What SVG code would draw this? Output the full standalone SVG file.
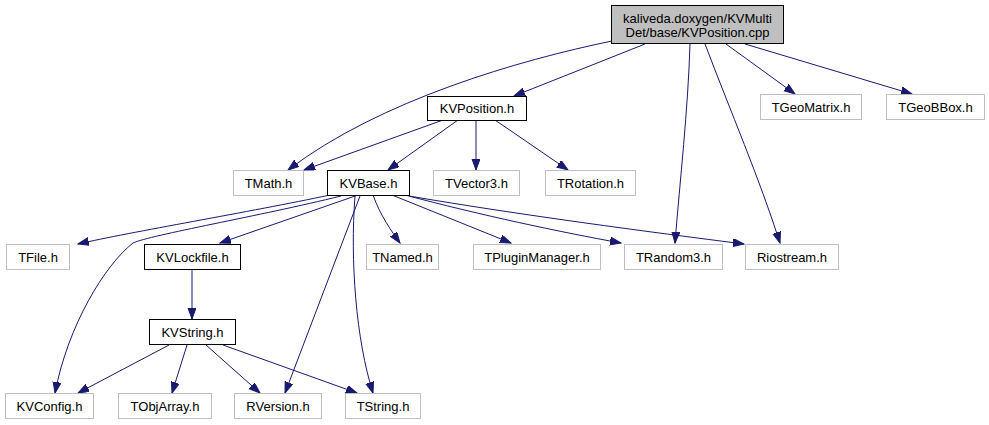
<svg xmlns="http://www.w3.org/2000/svg" width="989" height="425" viewBox="0 0 989 425">
<style>
text{font-family:"Liberation Sans",Arial,sans-serif;font-size:13px;text-anchor:middle;fill:#000}
.g rect{fill:#fff;stroke:#bfbfbf;stroke-width:1}
.b rect{fill:#fff;stroke:#000;stroke-width:1}
.r rect{fill:#bfbfbf;stroke:#000;stroke-width:1}
#edges path{fill:none;stroke:#191970;stroke-width:1}
</style>
<defs>
<marker id="a" markerUnits="userSpaceOnUse" markerWidth="12" markerHeight="9" refX="11" refY="4" orient="auto" viewBox="0 0 12 9">
<path d="M0,0 L11,4 L0,8 z" fill="#191970" stroke="#191970"/>
</marker>
</defs>
<rect width="989" height="425" fill="#fff"/>
<g id="edges" marker-end="url(#a)">
<path d="M612,41 C520,60 380,100 288,170"/>
<path d="M645,44 L514,96"/>
<path d="M690,44 C688,110 680,180 675,243"/>
<path d="M705,44 C730,110 760,180 780,243"/>
<path d="M726,44 L795,94"/>
<path d="M745,44 L912,94"/>
<path d="M443,120 L304,170"/>
<path d="M458,120 L388,170"/>
<path d="M476,120 L476,170"/>
<path d="M495,120 L568,170"/>
<path d="M330,195 C250,212 130,232 78,244"/>
<path d="M341,196 C260,216 150,235 133,243 C105,265 68,325 55,393"/>
<path d="M358,195 L220,243"/>
<path d="M373,195 C380,215 392,232 400,243"/>
<path d="M392,195 L511,243"/>
<path d="M405,195 C480,215 560,232 621,243"/>
<path d="M409,196 C520,215 650,232 744,244"/>
<path d="M360,196 L285,393"/>
<path d="M355,196 C350,260 356,340 373,393"/>
<path d="M192,268 L192,319"/>
<path d="M169,345 L78,393"/>
<path d="M187,345 L172,393"/>
<path d="M206,345 L260,393"/>
<path d="M223,345 L357,393"/>
</g>
<g id="n_root" class="r"><rect x="611.5" y="5.5" width="172" height="38"/><text x="697.5" y="23">kaliveda.doxygen/KVMulti</text><text x="697.5" y="37">Det/base/KVPosition.cpp</text></g>
<g id="n_kvposition" class="b"><rect x="427.5" y="96.5" width="99" height="24"/><text x="477" y="113">KVPosition.h</text></g>
<g id="n_tgeomatrix" class="g"><rect x="760.5" y="94.5" width="101" height="25"/><text x="811" y="111.5">TGeoMatrix.h</text></g>
<g id="n_tgeobbox" class="g"><rect x="886.5" y="94.5" width="98" height="25"/><text x="935.5" y="111.5">TGeoBBox.h</text></g>
<g id="n_tmath" class="g"><rect x="233.5" y="170.5" width="70" height="25"/><text x="268.5" y="187.5">TMath.h</text></g>
<g id="n_kvbase" class="b"><rect x="327.5" y="170.5" width="82" height="25"/><text x="368.5" y="187.5">KVBase.h</text></g>
<g id="n_tvector3" class="g"><rect x="433.5" y="170.5" width="86" height="25"/><text x="476.5" y="187.5">TVector3.h</text></g>
<g id="n_trotation" class="g"><rect x="545.5" y="170.5" width="90" height="25"/><text x="590.5" y="187.5">TRotation.h</text></g>
<g id="n_tfile" class="g"><rect x="6.5" y="244.5" width="63" height="25"/><text x="38" y="261.5">TFile.h</text></g>
<g id="n_kvlockfile" class="b"><rect x="144.5" y="244.5" width="96" height="25"/><text x="192.5" y="261.5">KVLockfile.h</text></g>
<g id="n_tnamed" class="g"><rect x="366.5" y="244.5" width="72" height="25"/><text x="402.5" y="261.5">TNamed.h</text></g>
<g id="n_tpluginmanager" class="g"><rect x="473.5" y="244.5" width="127" height="25"/><text x="537" y="261.5">TPluginManager.h</text></g>
<g id="n_trandom3" class="g"><rect x="624.5" y="244.5" width="98" height="25"/><text x="673.5" y="261.5">TRandom3.h</text></g>
<g id="n_riostream" class="g"><rect x="745.5" y="244.5" width="93" height="25"/><text x="792" y="261.5">Riostream.h</text></g>
<g id="n_kvstring" class="b"><rect x="149.5" y="319.5" width="86" height="25"/><text x="192.5" y="336.5">KVString.h</text></g>
<g id="n_kvconfig" class="g"><rect x="5.5" y="393.5" width="88" height="25"/><text x="49.5" y="410.5">KVConfig.h</text></g>
<g id="n_tobjarray" class="g"><rect x="118.5" y="393.5" width="93" height="25"/><text x="165" y="410.5">TObjArray.h</text></g>
<g id="n_rversion" class="g"><rect x="234.5" y="393.5" width="87" height="25"/><text x="278" y="410.5">RVersion.h</text></g>
<g id="n_tstring" class="g"><rect x="345.5" y="393.5" width="75" height="25"/><text x="383" y="410.5">TString.h</text></g>
</svg>
